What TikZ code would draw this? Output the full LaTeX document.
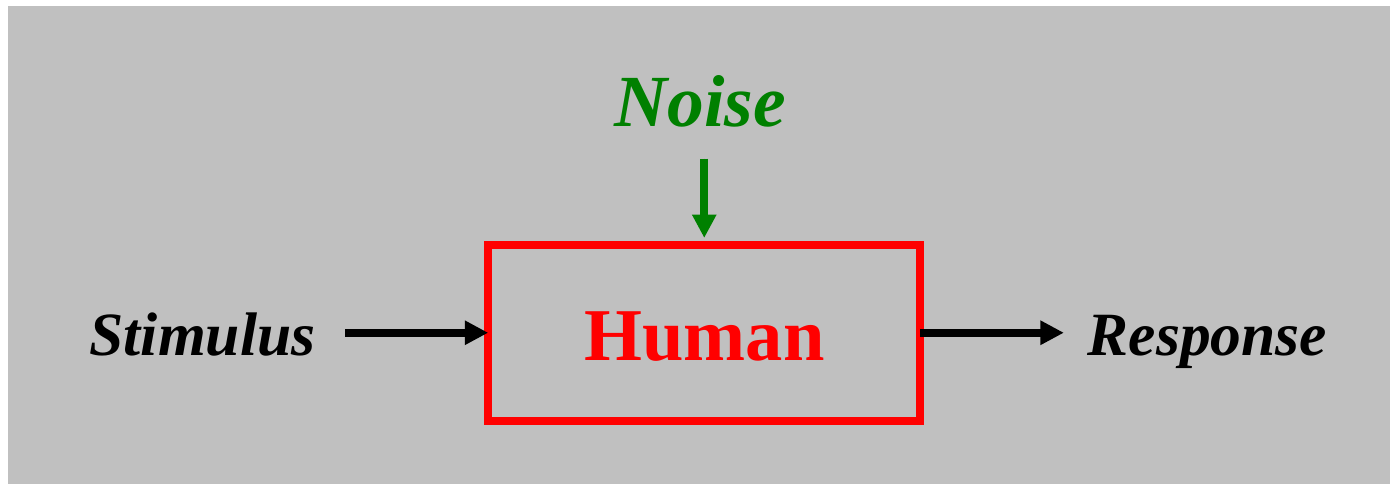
\documentclass[tikz,border=0pt]{standalone}
\usepackage{fontspec}
\setmainfont{Liberation Serif}
\usetikzlibrary{arrows.meta}

\definecolor{panelgray}{RGB}{192,192,192}
\definecolor{boxred}{RGB}{255,0,0}
\definecolor{noisegreen}{RGB}{0,128,0}

\tikzset{
  label text/.style={inner sep=0pt, outer sep=0pt, anchor=base},
  flow/.style={line width=8pt, -{Triangle[length=23.5pt,width=23pt]}},
}

\begin{document}
\begin{tikzpicture}[x=1pt, y=-1pt]
  % canvas and grey panel
  \useasboundingbox (0,0) rectangle (1390,484);
  \fill[white] (0,0) rectangle (1390,484);
  \fill[panelgray] (8,6) rectangle (1390,484);

  % central block
  \node[draw=boxred, line width=8pt, outer sep=0pt, inner sep=0pt,
        minimum width=432pt, minimum height=175.5pt] (box) at (704.25,332.75) {};
  \node[label text, text=boxred, font=\bfseries\fontsize{74.5}{80}\selectfont] (human) at (704.5,360) {Human};

  % inputs and output
  \node[label text, font=\bfseries\itshape\fontsize{61.5}{66}\selectfont] (stimulus) at (202.5,355) {Stimulus};
  \node[label text, font=\bfseries\itshape\fontsize{61.5}{66}\selectfont] (response) at (1207.5,355) {Response};
  \node[label text, text=noisegreen, font=\bfseries\itshape\fontsize{73.5}{80}\selectfont] (noise) at (700,127) {Noise};

  % connectors
  \draw[flow, shorten <=30pt] (stimulus.east |- box.west) -- (box.west);
  \draw[flow, shorten >=24pt] (box.east) -- (response.west |- box.east);
  \draw[flow, draw=noisegreen, fill=noisegreen, shorten <=31pt, shorten >=7pt]
    (noise.south -| box.north) -- (box.north);
\end{tikzpicture}
\end{document}
